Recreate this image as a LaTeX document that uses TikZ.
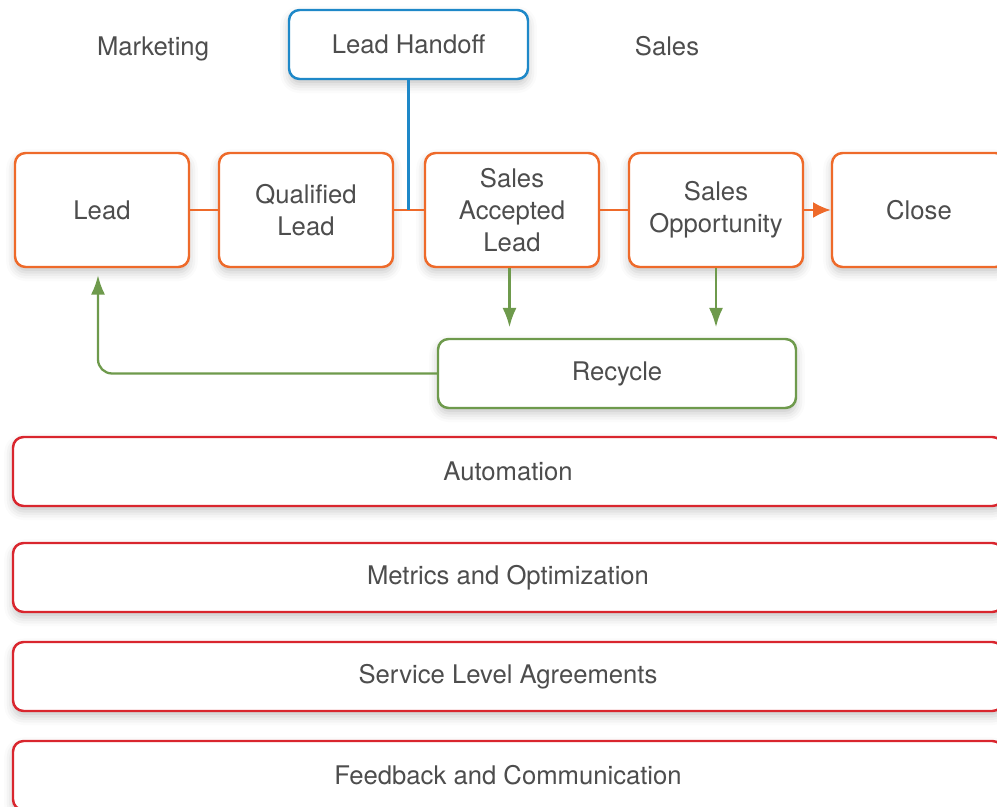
\documentclass[tikz,border=0pt]{standalone}
\usepackage{fontspec}
\setmainfont{TeX Gyre Heros}
\usetikzlibrary{positioning,arrows.meta,shadows.blur}

\definecolor{funnelorange}{HTML}{EE6A2A}
\definecolor{handoffblue}{HTML}{1E88C8}
\definecolor{recyclegreen}{HTML}{6E9A4C}
\definecolor{basered}{HTML}{D9262E}
\definecolor{labelgray}{HTML}{4D4D4D}

\tikzset{
  box/.style={draw, line width=1.4pt, rounded corners=6pt, fill=white,
    align=center, text=labelgray, inner sep=2pt,
    font=\fontsize{14.6}{18.2}\selectfont,
    blur shadow={shadow xshift=0pt, shadow yshift=-3pt,
      shadow blur radius=5pt, shadow opacity=22}},
  stage/.style={box, draw=funnelorange, minimum width=3.48cm, minimum height=2.28cm},
  handoff/.style={box, draw=handoffblue, minimum width=4.78cm, minimum height=1.38cm},
  recycle/.style={box, draw=recyclegreen, minimum width=7.16cm, minimum height=1.38cm},
  base/.style={box, draw=basered, minimum width=19.8cm, minimum height=1.38cm},
  side/.style={text=labelgray, anchor=base, font=\fontsize{14.6}{18.2}\selectfont},
  oline/.style={draw=funnelorange, line width=1.3pt},
  garrow/.style={draw=recyclegreen, line width=1.3pt,
    -{Latex[length=11pt,width=8pt]}},
}

\begin{document}
\begin{tikzpicture}
\useasboundingbox (0,0) rectangle (19.94,-16.14);

% headings and hand-off box
\node[side] (mkt) at (3.06,-1.12) {Marketing};
\node[side] (sls) at (13.34,-1.12) {Sales};
\node[handoff] (hand) at (8.17,-0.89) {Lead Handoff};

% funnel stages
\node[stage] (lead) at (2.04,-4.2) {Lead};
\node[stage] (qual) at (6.12,-4.2) {Qualified\\Lead};
\node[stage] (sal) at (10.24,-4.2) {Sales\\Accepted\\Lead};
\node[stage] (opp) at (14.32,-4.2) {Sales\\Opportunity};
\node[stage] (close) at (18.38,-4.2) {Close};

\draw[oline] (lead) -- (qual);
\draw[oline] (qual) -- (sal);
\draw[oline] (sal) -- (opp);
\draw[oline, -{Latex[length=10pt,width=9pt]}] (opp) -- (close);

% hand-off line drops onto the funnel
\coordinate (hdrop) at (hand.south |- qual.east);
\draw[draw=handoffblue, line width=1.3pt] (hand.south) -- (hdrop);

% recycle loop
\node[recycle] (rec) at (12.34,-7.47) {Recycle};
\draw[garrow, shorten >=6pt] ([xshift=-0.5mm]sal.south) -- ([xshift=-0.5mm]sal.south |- rec.north);
\draw[garrow, shorten >=6pt] (opp.south) -- (opp.south |- rec.north);
\draw[garrow, shorten >=4pt, rounded corners=8pt] (rec.west) -| ([xshift=-0.8mm]lead.south);

% foundations
\node[base] (auto) at (10.16,-9.43) {Automation};
\node[base] (metr) at (10.16,-11.55) {Metrics and Optimization};
\node[base] (sla) at (10.16,-13.53) {Service Level Agreements};
\node[base] (feed) at (10.16,-15.51) {Feedback and Communication};
\end{tikzpicture}
\end{document}
